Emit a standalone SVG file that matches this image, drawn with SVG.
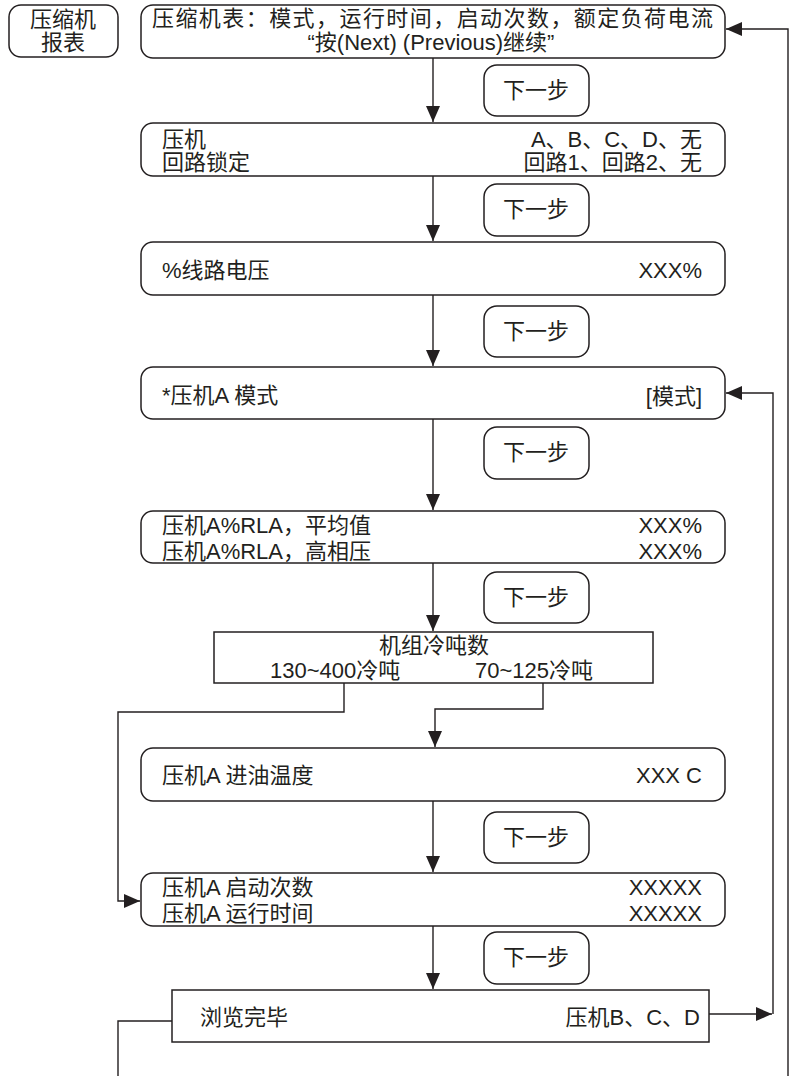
<svg xmlns="http://www.w3.org/2000/svg" width="793" height="1076" viewBox="0 0 793 1076">
<defs>
<style>
.box{fill:#fff;stroke:#231f20;stroke-width:1.5}
.ln{fill:none;stroke:#231f20;stroke-width:1.4}
.t{font-family:"Liberation Sans","Noto Sans CJK SC",sans-serif;font-size:22px;fill:#231f20}
.e{text-anchor:end}
.m{text-anchor:middle}
</style>
<marker id="ah" markerUnits="userSpaceOnUse" markerWidth="16" markerHeight="14" refX="16" refY="7" orient="auto">
<path d="M0,0 L16,7 L0,14 z" fill="#231f20"/>
</marker>
</defs>
<rect width="793" height="1076" fill="#fff"/>
<g id="connectors">
<path class="ln" d="M433,58 V122" marker-end="url(#ah)"/>
<path class="ln" d="M433,176 V241" marker-end="url(#ah)"/>
<path class="ln" d="M433,295 V366" marker-end="url(#ah)"/>
<path class="ln" d="M433,419 V510" marker-end="url(#ah)"/>
<path class="ln" d="M433,563 V631" marker-end="url(#ah)"/>
<path class="ln" d="M344,683 V712 H118 V901 H140" marker-end="url(#ah)"/>
<path class="ln" d="M543,683 V709 H435 V747" marker-end="url(#ah)"/>
<path class="ln" d="M433,801 V872" marker-end="url(#ah)"/>
<path class="ln" d="M433,926 V989" marker-end="url(#ah)"/>
<path class="ln" d="M709,1014 H772" marker-end="url(#ah)"/>
<path class="ln" d="M773,1014 V393 H726" marker-end="url(#ah)"/>
<path class="ln" d="M172,1021 H118 V1076"/>
<path class="ln" d="M788,1076 V29 H726" marker-end="url(#ah)"/>
</g>
<g id="title">
<rect class="box" x="9" y="5" width="109" height="52" rx="12"/>
<text class="t m" x="63" y="27">压缩机</text>
<text class="t m" x="63" y="50">报表</text>
</g>
<g id="n1">
<rect class="box" x="141" y="5" width="584" height="53" rx="12"/>
<text class="t" x="152" y="26" font-size="21" textLength="561" lengthAdjust="spacing">压缩机表：模式，运行时间，启动次数，额定负荷电流</text>
<text class="t m" x="431" y="50" font-size="21">“按(Next) (Previous)继续”</text>
</g>
<g id="next1">
<rect class="box" x="484" y="65" width="105" height="51" rx="13"/>
<text class="t m" x="536" y="98">下一步</text>
</g>
<g id="n2">
<rect class="box" x="141" y="123" width="584" height="53" rx="12"/>
<text class="t" x="162" y="147">压机</text>
<text class="t" x="162" y="170">回路锁定</text>
<text class="t e" x="702" y="147">A、B、C、D、无</text>
<text class="t e" x="702" y="170">回路1、回路2、无</text>
</g>
<g id="next2">
<rect class="box" x="484" y="184" width="105" height="52" rx="13"/>
<text class="t m" x="536" y="217">下一步</text>
</g>
<g id="n3">
<rect class="box" x="141" y="242" width="584" height="53" rx="12"/>
<text class="t" x="162" y="278">%线路电压</text>
<text class="t e" x="702" y="278">XXX%</text>
</g>
<g id="next3">
<rect class="box" x="484" y="306" width="105" height="51" rx="13"/>
<text class="t m" x="536" y="339">下一步</text>
</g>
<g id="n4">
<rect class="box" x="141" y="367" width="584" height="52" rx="12"/>
<text class="t" x="162" y="403">*压机A 模式</text>
<text class="t e" x="702" y="404">[模式]</text>
</g>
<g id="next4">
<rect class="box" x="484" y="427" width="105" height="52" rx="13"/>
<text class="t m" x="536" y="460">下一步</text>
</g>
<g id="n5">
<rect class="box" x="141" y="511" width="584" height="52" rx="12"/>
<text class="t" x="162" y="533">压机A%RLA，平均值</text>
<text class="t" x="162" y="559">压机A%RLA，高相压</text>
<text class="t e" x="702" y="533">XXX%</text>
<text class="t e" x="702" y="559">XXX%</text>
</g>
<g id="next5">
<rect class="box" x="484" y="572" width="105" height="51" rx="13"/>
<text class="t m" x="536" y="605">下一步</text>
</g>
<g id="n6">
<rect class="box" x="214" y="632" width="439" height="51"/>
<text class="t m" x="434" y="653">机组冷吨数</text>
<text class="t" x="270" y="678">130~400冷吨</text>
<text class="t" x="475" y="678">70~125冷吨</text>
</g>
<g id="n7">
<rect class="box" x="141" y="748" width="584" height="53" rx="12"/>
<text class="t" x="162" y="783">压机A 进油温度</text>
<text class="t e" x="702" y="783">XXX C</text>
</g>
<g id="next6">
<rect class="box" x="484" y="812" width="105" height="51" rx="13"/>
<text class="t m" x="536" y="845">下一步</text>
</g>
<g id="n8">
<rect class="box" x="141" y="873" width="584" height="53" rx="12"/>
<text class="t" x="162" y="895">压机A 启动次数</text>
<text class="t" x="162" y="921">压机A 运行时间</text>
<text class="t e" x="702" y="895">XXXXX</text>
<text class="t e" x="702" y="921">XXXXX</text>
</g>
<g id="next7">
<rect class="box" x="484" y="932" width="105" height="52" rx="13"/>
<text class="t m" x="536" y="965">下一步</text>
</g>
<g id="n9">
<rect class="box" x="172" y="990" width="537" height="52"/>
<text class="t" x="200" y="1025">浏览完毕</text>
<text class="t e" x="700" y="1025">压机B、C、D</text>
</g>
</svg>
